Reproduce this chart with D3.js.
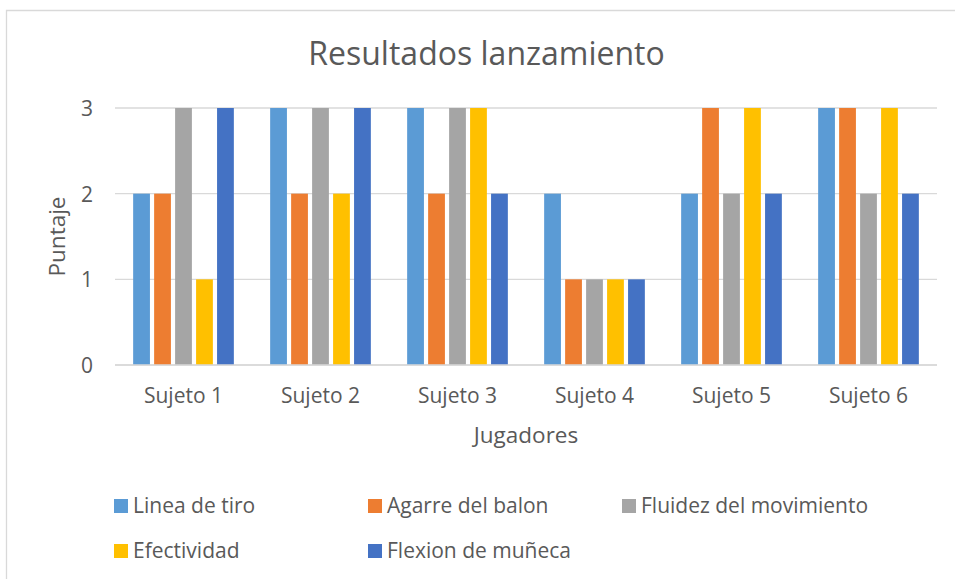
<!DOCTYPE html>
<html><head><meta charset="utf-8">
<script src="https://cdn.jsdelivr.net/npm/d3@7"></script>
<style>body{margin:0;background:#fff}svg{display:block}text{font-family:"Open Sans",sans-serif;fill:#595959}</style>
</head><body><svg id="c" width="955" height="579"></svg>
<script>
const categories = ["Sujeto 1","Sujeto 2","Sujeto 3","Sujeto 4","Sujeto 5","Sujeto 6"];
const seriesNames = ["Linea de tiro","Agarre del balon","Fluidez del movimiento","Efectividad","Flexion de muñeca"];
const seriesColors = ["#5B9BD5","#ED7D31","#A5A5A5","#FFC000","#4472C4"];
const lineaDeTiro = [2,3,3,2,2,3];
const agarreDelBalon = [2,2,2,1,3,3];
const fluidezDelMovimiento = [3,3,3,1,2,2];
const efectividad = [1,2,3,1,3,3];
const flexionDeMuneca = [3,3,2,1,2,2];
const yTicks = [0,1,2,3];
const seriesValues = [lineaDeTiro, agarreDelBalon, fluidezDelMovimiento, efectividad, flexionDeMuneca];

const svg = d3.select("#c");
// chart border (left and top visible)
svg.append("path").attr("d","M6.5,579V10.5H955").attr("fill","none").attr("stroke","#D9D9D9").attr("stroke-width",1.3);

const L=115,R=937,T=108,B=365;
const x0 = d3.scaleBand().domain(categories).range([L,R]).paddingInner(0.265).paddingOuter(0.1325);
const x1 = d3.scaleBand().domain(seriesNames).range([0,x0.bandwidth()]).paddingInner(0.2);
const y = d3.scaleLinear().domain([0,3]).range([B,T]);

svg.append("text").attr("x",486.5).attr("y",65).attr("text-anchor","middle").style("font-size","32px").text("Resultados lanzamiento");

// gridlines
svg.append("g").selectAll("line").data(yTicks).join("line")
 .attr("x1",L).attr("x2",R).attr("y1",d=>y(d)).attr("y2",d=>y(d)).attr("stroke","#D9D9D9").attr("stroke-width",1.3);

const yAxis = svg.append("g").attr("transform",`translate(${L-22},0)`).call(d3.axisLeft(y).tickValues(yTicks).tickSize(0).tickFormat(d3.format("d")));
yAxis.select(".domain").remove();
yAxis.selectAll("text").style("font-size","21px").attr("fill","#595959").attr("x",0).attr("dy","0.35em");

// bars
const groups = svg.append("g").selectAll("g").data(categories).join("g").attr("transform",d=>`translate(${x0(d)},0)`);
groups.selectAll("rect").data((d,i)=>seriesNames.map((s,j)=>({s,j,v:seriesValues[j][i]}))).join("rect")
 .attr("x",d=>x1(d.s)).attr("width",x1.bandwidth()).attr("y",d=>y(d.v)).attr("height",d=>y(0)-y(d.v)).attr("fill",d=>seriesColors[d.j]);

// baseline over bars
svg.append("line").attr("x1",L).attr("x2",R).attr("y1",y(0)).attr("y2",y(0)).attr("stroke","#D9D9D9").attr("stroke-width",1.3);

const xAxis = svg.append("g").attr("transform",`translate(0,${B})`).call(d3.axisBottom(x0).tickSize(0));
xAxis.select(".domain").remove();
xAxis.selectAll("text").style("font-size","21px").attr("fill","#595959").attr("y",38).attr("dy","0");

svg.append("text").attr("x",(L+R)/2).attr("y",443).attr("text-anchor","middle").style("font-size","22.5px").text("Jugadores");
svg.append("text").attr("transform",`translate(65,${(T+B)/2}) rotate(-90)`).attr("text-anchor","middle").style("font-size","22.5px").text("Puntaje");

// legend
const legPos = [[114,513],[368,513],[622,513],[114,558],[368,558]];
const leg = svg.append("g").selectAll("g").data(seriesNames).join("g").attr("transform",(d,i)=>`translate(${legPos[i][0]},${legPos[i][1]})`);
leg.append("rect").attr("x",0).attr("y",-14).attr("width",14).attr("height",14).attr("fill",(d,i)=>seriesColors[i]);
leg.append("text").attr("x",19).attr("y",0).style("font-size","21px").text(d=>d);
</script></body></html>
